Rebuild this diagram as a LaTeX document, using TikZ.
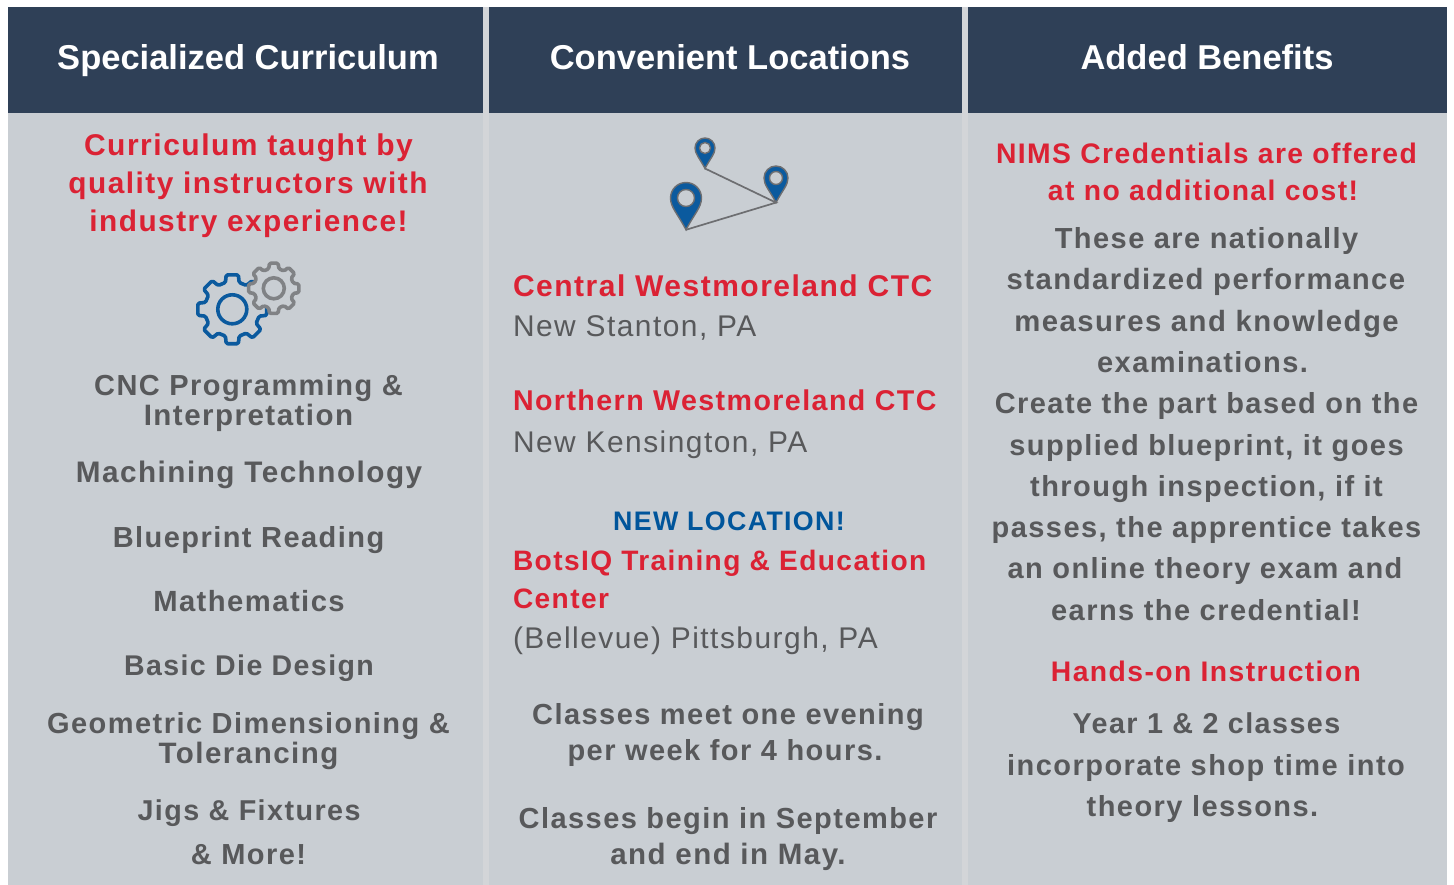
\documentclass[tikz,border=0pt]{standalone}
\usepackage{fontspec}
\setmainfont{Liberation Sans}
\newfontfamily\headf{Liberation Sans}
\newfontfamily\bodyf{Liberation Sans}[LetterSpace=5]
\definecolor{navy}{HTML}{2F4057}
\definecolor{panel}{HTML}{C9CED3}
\definecolor{gutter}{HTML}{D3D5D8}
\definecolor{redtxt}{HTML}{DB2234}
\definecolor{greytxt}{HTML}{58595B}
\definecolor{bluetxt}{HTML}{00559B}
\definecolor{gearblue}{HTML}{0B5A9E}
\definecolor{geargrey}{HTML}{808285}
\definecolor{pingrey}{HTML}{6D6E71}
\tikzset{
 txt/.style={anchor=base,inner sep=0pt,outer sep=0pt},
 headtxt/.style={txt,text=white,font=\headf\bfseries\fontsize{34.5}{40}\selectfont},
 redline/.style={txt,text=redtxt,font=\bodyf\bfseries\fontsize{#1}{32}\selectfont},
 redline/.default=28.3,
 greyline/.style={txt,text=greytxt,font=\bodyf\bfseries\fontsize{#1}{32}\selectfont},
 greyline/.default=29,
 plainline/.style={txt,text=greytxt,font=\bodyf\fontsize{29.9}{32}\selectfont},
 blueline/.style={txt,text=bluetxt,font=\bodyf\bfseries\fontsize{26.8}{32}\selectfont},
 leftl/.style={anchor=base west},
 pinline/.style={draw=pingrey,line width=1.7pt},
 pinbody/.style={draw=pingrey,fill=gearblue,line width=1.4pt},
 pinhole/.style={draw=pingrey,fill=panel,line width=1.4pt},
}
\newcommand{\gearshape}[7]{% cx cy outer root line colour fill
 \gdef\gearp{}%
 \foreach \k in {0,45,...,315}{%
  \pgfmathsetmacro\aa{\k-22.5}\pgfmathsetmacro\ab{\k-14.5}\pgfmathsetmacro\ac{\k-10}\pgfmathsetmacro\ad{\k+10}\pgfmathsetmacro\ae{\k+14.5}%
  \xdef\gearp{\gearp (\aa:#4) -- (\ab:#4) -- (\ac:#3) -- (\ad:#3) -- (\ae:#4) -- }%
 }%
 \begin{scope}[shift={(#1,#2)}]
 \draw[draw=#6,fill=#7,line width=#5,line join=round,rounded corners=1.5pt] \gearp cycle;
 \end{scope}%
}
\newcommand{\mappin}[5]{% name cx cy r holer
 \coordinate (#1) at (#2,{#3+#4*2.05});
 \draw[pinbody] (#1) .. controls ({#2-#4*0.55},{#3+#4*1.0}) and ({#2-#4},{#3+#4*0.6}) .. ({#2-#4},#3)
   arc[start angle=180,end angle=360,radius=#4] .. controls ({#2+#4},{#3+#4*0.6}) and ({#2+#4*0.55},{#3+#4*1.0}) .. (#1) -- cycle;
 \draw[pinhole] (#2,#3) circle[radius=#5];
}
\begin{document}
\begin{tikzpicture}[x=1pt,y=-1pt]
\useasboundingbox (0,0) rectangle (1454,885);
\fill[white] (0,0) rectangle (1454,885);
% panels
\fill[panel] (8,113) rectangle (1447,885);
\fill[navy] (8,7) rectangle (483,113);
\fill[navy] (489,7) rectangle (962,113);
\fill[navy] (968,7) rectangle (1447,113);
\fill[gutter] (483,7) rectangle (489,885);
\fill[gutter] (962,7) rectangle (968,885);
% headers
\node[headtxt] (h1) at (248,69.5) {Specialized Curriculum};
\node[headtxt] (h2) at (730,69.5) {Convenient Locations};
\node[headtxt] (h3) at (1207,69.5) {Added Benefits};
% col 1
\node[redline=30] (a1) at (248.5,156) {Curriculum taught by};
\node[redline=29.8] (a2) at (248,194) {quality instructors with};
\node[redline=29.8] (a3) at (248.5,232) {industry experience!};
\gearshape{232.3}{309.3}{35}{27.5}{3.6pt}{gearblue}{none}
\draw[gearblue,line width=3.6pt] (232.3,309.3) circle[radius=14.5];
\gearshape{273.8}{288.3}{25.5}{20}{3.6pt}{geargrey}{panel}
\draw[geargrey,line width=3.6pt] (273.8,288.3) circle[radius=10.5];
\node[greyline] (c1) at (248.5,395) {CNC Programming \&};
\node[greyline=29.5] (c2) at (248.5,425) {Interpretation};
\node[greyline=29.7] (c3) at (249,482) {Machining Technology};
\node[greyline] (c4) at (248.5,547) {Blueprint Reading};
\node[greyline=29.2] (c5) at (249,611) {Mathematics};
\node[greyline=28.5] (c6) at (249,675) {Basic Die Design};
\node[greyline] (c7) at (248.5,733) {Geometric Dimensioning \&};
\node[greyline=29.5] (c8) at (248.5,763) {Tolerancing};
\node[greyline=28.7] (c9) at (249,820) {Jigs \& Fixtures};
\node[greyline] (c10) at (248.5,864) {\& More!};
% col 2 icon
\mappin{pa}{705}{148}{10}{5.5}
\mappin{pb}{776}{178}{12}{6.5}
\mappin{pc}{686}{198}{15.5}{8.5}
\draw[pinline] (pa) -- (pb) -- (pc);
\node[redline=30,leftl] (b1) at (513,296.5) {Central Westmoreland CTC};
\node[plainline,leftl] (b2) at (513,336.5) {New Stanton, PA};
\node[redline=28.6,leftl] (b3) at (513,410) {Northern Westmoreland CTC};
\node[plainline,leftl] (b4) at (513,452.5) {New Kensington, PA};
\node[blueline] (b5) at (729,530) {NEW LOCATION!};
\node[redline=28.1,leftl] (b6) at (513,570) {BotsIQ Training \& Education};
\node[redline=28.1,leftl] (b7) at (513,608) {Center};
\node[plainline,leftl] (b8) at (513,648) {(Bellevue) Pittsburgh, PA};
\node[greyline] (b9) at (728,724) {Classes meet one evening};
\node[greyline] (b10) at (725,760) {per week for 4 hours.};
\node[greyline] (b11) at (728,828) {Classes begin in September};
\node[greyline=29.5] (b12) at (728,864) {and end in May.};
% col 3
\node[redline] (d1) at (1206.5,163.5) {NIMS Credentials are offered};
\node[redline] (d2) at (1203,200.5) {at no additional cost!};
\node[greyline] (d3) at (1206.5,249) {These are nationally};
\node[greyline=29.3] (d4) at (1206,290) {standardized performance};
\node[greyline=29.3] (d5) at (1206.5,332) {measures and knowledge};
\node[greyline] (d6) at (1202.5,373) {examinations.};
\node[greyline] (d7) at (1206.5,413) {Create the part based on the};
\node[greyline] (d8) at (1206.5,455) {supplied blueprint, it goes};
\node[greyline] (d9) at (1206.5,496) {through inspection, if it};
\node[greyline] (d10) at (1206.5,537) {passes, the apprentice takes};
\node[greyline] (d11) at (1205,578) {an online theory exam and};
\node[greyline] (d12) at (1206,620) {earns the credential!};
\node[redline] (d13) at (1206,681) {Hands-on Instruction};
\node[greyline=28.7] (d14) at (1206.5,733) {Year 1 \& 2 classes};
\node[greyline] (d15) at (1206,775) {incorporate shop time into};
\node[greyline] (d16) at (1202.5,816) {theory lessons.};
\end{tikzpicture}
\end{document}
